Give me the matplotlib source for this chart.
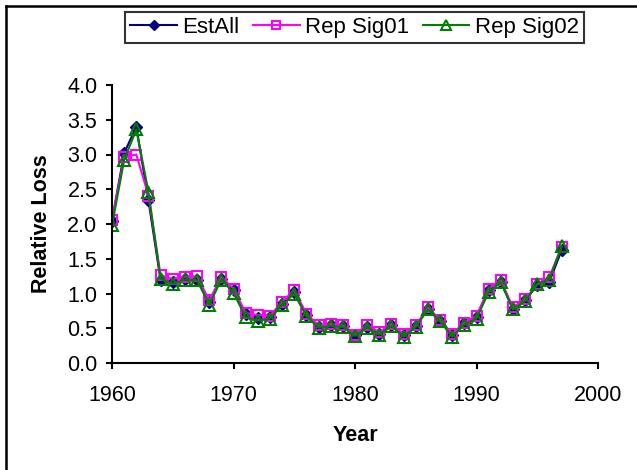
import matplotlib
matplotlib.use("Agg")
import matplotlib.pyplot as plt
from matplotlib.lines import Line2D

plt.rcParams['font.family'] = ['Liberation Sans', 'DejaVu Sans']

# Years and the three series
years = list(range(1960, 1998))
est_all = [2.05, 3.02, 3.40, 2.34, 1.19, 1.17, 1.21, 1.20, 0.88, 1.21,
           1.05, 0.71, 0.65, 0.66, 0.85, 1.02, 0.69, 0.52, 0.54, 0.53,
           0.40, 0.52, 0.42, 0.54, 0.40, 0.53, 0.78, 0.61, 0.40, 0.57,
           0.66, 1.05, 1.17, 0.78, 0.90, 1.12, 1.17, 1.62]
rep_sig01 = [2.06, 2.96, 3.00, 2.41, 1.26, 1.21, 1.24, 1.25, 0.90, 1.24,
             1.07, 0.72, 0.69, 0.68, 0.88, 1.05, 0.71, 0.54, 0.56, 0.54,
             0.41, 0.55, 0.44, 0.56, 0.42, 0.54, 0.80, 0.62, 0.42, 0.58,
             0.68, 1.07, 1.19, 0.80, 0.92, 1.13, 1.24, 1.67]
rep_sig02 = [1.98, 2.92, 3.36, 2.46, 1.21, 1.14, 1.20, 1.19, 0.84, 1.20,
             1.01, 0.66, 0.61, 0.64, 0.83, 1.00, 0.67, 0.51, 0.53, 0.52,
             0.39, 0.51, 0.41, 0.53, 0.38, 0.52, 0.77, 0.60, 0.38, 0.55,
             0.64, 1.02, 1.16, 0.77, 0.89, 1.14, 1.20, 1.68]

W, H = 637, 470
fig = plt.figure(figsize=(W / 100, H / 100), dpi=100)
ax = fig.add_axes([112 / W, 1 - 363 / H, 486 / W, 278 / H])

ax.plot(years, est_all, color="#000080", marker="D", markersize=6,
        markerfacecolor="#000080", linewidth=1.5, label="EstAll")
ax.plot(years, rep_sig01, color="#FF00FF", marker="s", markersize=7,
        markerfacecolor="none", markeredgewidth=1.5, linewidth=1.5, label="Rep Sig01")
ax.plot(years, rep_sig02, color="#008000", marker="^", markersize=8,
        markerfacecolor="none", markeredgewidth=1.5, linewidth=1.5, label="Rep Sig02")

ax.set_xlim(1960, 2000)
ax.set_ylim(0, 4.0)
ax.set_xticks([1960, 1970, 1980, 1990, 2000])
ax.set_yticks([i * 0.5 for i in range(9)])
ax.set_yticklabels(["%.1f" % (i * 0.5) for i in range(9)])
ax.tick_params(labelsize=15.5, width=1.5, length=4.5, direction="out")
ax.tick_params(axis="y", pad=6)
ax.tick_params(axis="x", pad=11)
for side in ["top", "right"]:
    ax.spines[side].set_visible(False)
for side in ["left", "bottom"]:
    ax.spines[side].set_linewidth(1.5)

ax.set_xlabel("Year", fontsize=15.5, fontweight="bold", labelpad=14)
ax.set_ylabel("Relative Loss", fontsize=15.5, fontweight="bold", labelpad=11)

leg = fig.legend(loc="center", bbox_to_anchor=(354.5 / W, 1 - 27.5 / H), ncol=3,
                 fontsize=16, frameon=True, fancybox=False, handlelength=2.1,
                 columnspacing=0.6, handletextpad=0.25, borderpad=0.22,
                 markerscale=0.85)
leg.get_frame().set_edgecolor("black")
leg.get_frame().set_linewidth(1.5)

# Left and top edges of the chart border
fig.add_artist(Line2D([6 / W, 6 / W], [0, 1 - 6 / H], transform=fig.transFigure,
                      color="black", linewidth=1.8))
fig.add_artist(Line2D([6 / W, 1], [1 - 6 / H, 1 - 6 / H], transform=fig.transFigure,
                      color="black", linewidth=1.8))

fig.savefig("out.png", dpi=100)
